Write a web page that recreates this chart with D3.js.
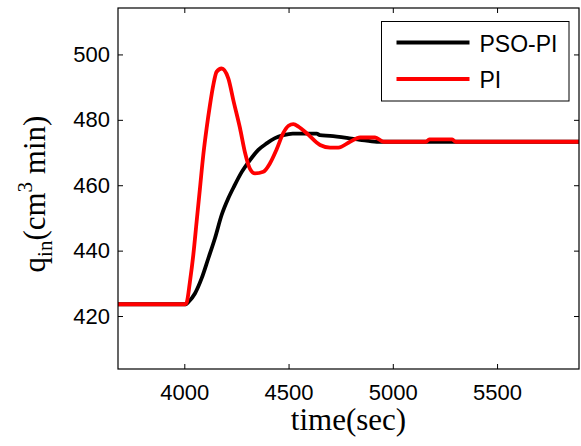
<!DOCTYPE html>
<html>
<head>
<meta charset="utf-8">
<script src="https://cdn.jsdelivr.net/npm/d3@7"></script>
<style>
  body { margin: 0; background: #fff; }
  svg { display: block; }
</style>
</head>
<body>
<div id="chart"></div>
<script>
// PSO-PI response (time in sec, q_in)
var psoTime = [3682, 4008, 4020, 4051, 4083, 4115, 4147, 4179, 4211, 4240, 4275, 4315, 4355, 4395, 4435, 4475, 4520, 4635, 4650, 4699, 4779, 4843, 4923, 5893];
var psoValue = [423.6, 423.6, 424.3, 426.9, 431.5, 437.6, 443.8, 450.9, 456, 459.8, 464, 467.7, 470.8, 472.8, 474.4, 475.3, 475.8, 475.8, 475.3, 475.1, 474.5, 473.9, 473.3, 473.3];

// PI response
var piTime = [3682, 4005, 4012, 4027, 4043, 4059, 4075, 4091, 4107, 4123, 4139, 4155, 4179, 4211, 4237, 4267, 4291, 4315, 4339, 4379, 4411, 4443, 4475, 4500, 4523, 4550, 4587, 4651, 4699, 4739, 4795, 4843, 4915, 4955, 5160, 5175, 5285, 5300, 5893];
var piValue = [423.6, 423.6, 424.2, 430.5, 438.6, 448.8, 459, 469.2, 477.4, 484.5, 490.6, 494.7, 495.7, 492.7, 485.5, 477.5, 470, 465, 463.6, 464.1, 466.7, 471, 476, 478.2, 478.7, 477.8, 475.9, 472.3, 471.5, 471.5, 473.3, 474.6, 474.6, 473.3, 473.3, 474, 474, 473.3, 473.3];

var xTicks = [4000, 4500, 5000, 5500];
var yTicks = [420, 440, 460, 480, 500];
var seriesNames = ["PSO-PI", "PI"];
var seriesColors = ["#000000", "#ff0000"];

function createChart() {
    var width = 581, height = 446;
    var margin = { top: 8, right: 2, bottom: 77, left: 118 };
    var w = width - margin.left - margin.right;
    var h = height - margin.top - margin.bottom;

    var svg = d3.select("#chart").append("svg")
        .attr("width", width)
        .attr("height", height);

    var g = svg.append("g")
        .attr("transform", "translate(" + margin.left + "," + margin.top + ")");

    var x = d3.scaleLinear().domain([3682, 5893]).range([0, w]);
    var y = d3.scaleLinear().domain([403.8, 514.2]).range([h, 0]);

    // axes with inward ticks
    var axisFont = "'Liberation Sans', Arial, sans-serif";

    g.append("g")
        .attr("transform", "translate(0," + h + ")")
        .call(d3.axisBottom(x).tickValues(xTicks).tickFormat(d3.format("d"))
            .tickSizeInner(-5).tickSizeOuter(0).tickPadding(15));
    g.append("g")
        .call(d3.axisLeft(y).tickValues(yTicks).tickFormat(d3.format("d"))
            .tickSizeInner(-5).tickSizeOuter(0).tickPadding(8));
    g.append("g")
        .call(d3.axisTop(x).tickValues(xTicks).tickFormat("")
            .tickSizeInner(-5).tickSizeOuter(0));
    g.append("g")
        .attr("transform", "translate(" + w + ",0)")
        .call(d3.axisRight(y).tickValues(yTicks).tickFormat("")
            .tickSizeInner(-5).tickSizeOuter(0));

    g.selectAll(".domain").remove();
    g.selectAll(".tick line").attr("stroke", "#000").attr("stroke-width", 1);
    g.selectAll(".tick text")
        .attr("fill", "#000")
        .style("font-family", axisFont)
        .style("font-size", "22px");

    // lines
    var line = d3.line()
        .x(function (d) { return x(d[0]); })
        .y(function (d) { return y(d[1]); })
        .curve(d3.curveMonotoneX);

    g.append("clipPath").attr("id", "clip")
        .append("rect").attr("width", w).attr("height", h);

    var series = [d3.zip(psoTime, psoValue), d3.zip(piTime, piValue)];
    series.forEach(function (data, i) {
        g.append("path")
            .datum(data)
            .attr("clip-path", "url(#clip)")
            .attr("fill", "none")
            .attr("stroke", seriesColors[i])
            .attr("stroke-width", 3.8)
            .attr("stroke-linejoin", "round")
            .attr("d", line);
    });

    // frame
    g.append("rect")
        .attr("width", w)
        .attr("height", h)
        .attr("fill", "none")
        .attr("stroke", "#000")
        .attr("stroke-width", 1.2);

    // legend
    var legend = g.append("g")
        .attr("transform", "translate(" + (381.5 - margin.left) + "," + (21.5 - margin.top) + ")");

    legend.append("rect")
        .attr("width", 187.5)
        .attr("height", 79.5)
        .attr("fill", "#fff")
        .attr("stroke", "#000")
        .attr("stroke-width", 1);

    seriesNames.forEach(function (name, i) {
        var ly = 21 + i * 36.5;
        legend.append("line")
            .attr("x1", 15).attr("x2", 88)
            .attr("y1", ly).attr("y2", ly)
            .attr("stroke", seriesColors[i])
            .attr("stroke-width", 4);
        legend.append("text")
            .attr("x", 98)
            .attr("y", ly + 9)
            .style("font-family", axisFont)
            .style("font-size", "23px")
            .text(name);
    });

    // axis titles
    svg.append("text")
        .attr("x", margin.left + w / 2)
        .attr("y", 430)
        .attr("text-anchor", "middle")
        .style("font-family", "'Liberation Serif', 'Times New Roman', serif")
        .style("font-size", "31px")
        .text("time(sec)");

    var yLabel = svg.append("text")
        .attr("transform", "translate(45," + 194 + ") rotate(-90)")
        .attr("text-anchor", "middle")
        .style("font-family", "'Liberation Serif', 'Times New Roman', serif")
        .style("font-size", "31px");
    yLabel.append("tspan").text("q");
    yLabel.append("tspan").attr("dy", 7).style("font-size", "21px").text("in");
    yLabel.append("tspan").attr("dy", -7).text("(cm");
    yLabel.append("tspan").attr("dy", -13).style("font-size", "21px").text("3");
    yLabel.append("tspan").attr("dy", 13).text(" min)");
}

createChart();
</script>
</body>
</html>
